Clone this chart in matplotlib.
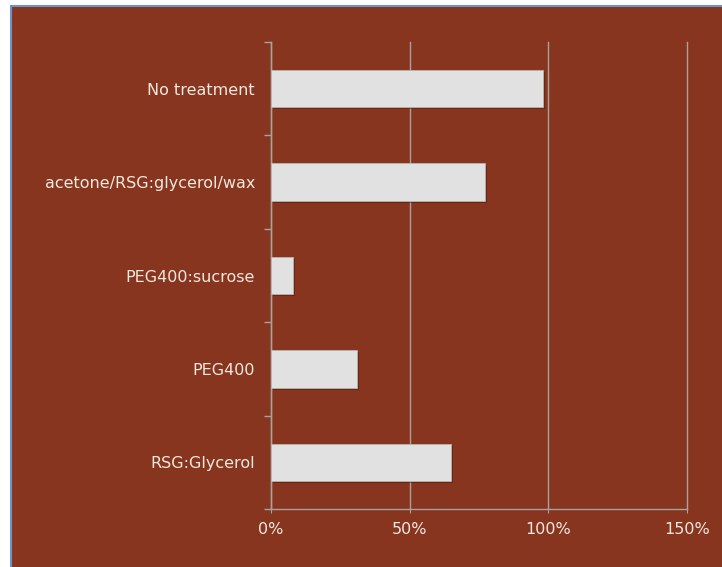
import matplotlib.pyplot as plt
import matplotlib.patheffects as pe
from matplotlib.patches import Rectangle

# Data (top to bottom as shown)
categories = ["No treatment", "acetone/RSG:glycerol/wax", "PEG400:sucrose", "PEG400", "RSG:Glycerol"]
values = [98, 77, 8, 31, 65]
xticks = [0, 50, 100, 150]
xtick_labels = ["0%", "50%", "100%", "150%"]

BG = "#87351e"
BAR = "#e0e1e0"
GRID = "#a8a29e"
TXT = "#f2e8de"

fig = plt.figure(figsize=(7.22, 5.67), dpi=100)
fig.patch.set_facecolor("white")

# brown panel with thin blue frame at top/left
panel = Rectangle((11 / 722, -0.01), 1.0, 1 - 6 / 567 + 0.01, transform=fig.transFigure,
                  facecolor=BG, edgecolor="#6d92cc", linewidth=1.5, zorder=-10)
fig.patches.append(panel)

ax = fig.add_axes([271 / 722, 1 - 509 / 567, 416 / 722, 467 / 567])
ax.set_facecolor("none")
ax.set_zorder(5)

y = list(range(len(categories)))[::-1]
ax.barh(y, values, height=0.40, color=BAR, edgecolor="#b8b4b0", linewidth=0.6, zorder=3,
        path_effects=[pe.SimplePatchShadow(offset=(1.5, -1.5), shadow_rgbFace="#4a1a0c", alpha=0.5),
                      pe.Normal()])

ax.set_xlim(0, 150)
ax.set_ylim(-0.5, len(categories) - 0.5)

ax.set_xticks(xticks)
ax.set_xticklabels(xtick_labels, color=TXT, fontsize=11.5)
ax.set_yticks(y)
ax.set_yticklabels(categories, color=TXT, fontsize=11.5)
ax.tick_params(axis="y", length=0, pad=11.5)
ax.tick_params(axis="x", length=3, color=GRID, pad=6)

# minor ticks at category boundaries
ax.set_yticks([i - 0.5 for i in range(len(categories) + 1)], minor=True)
ax.tick_params(axis="y", which="minor", length=5, color=GRID, width=1)

ax.grid(axis="x", color=GRID, linewidth=1, zorder=1)
for gl in ax.get_xgridlines():
    gl.set_clip_on(False)
for s in ["top", "right"]:
    ax.spines[s].set_visible(False)
for s in ["left", "bottom"]:
    ax.spines[s].set_color(GRID)
    ax.spines[s].set_linewidth(1)

fig.savefig("out.png", dpi=100, facecolor=fig.get_facecolor())
